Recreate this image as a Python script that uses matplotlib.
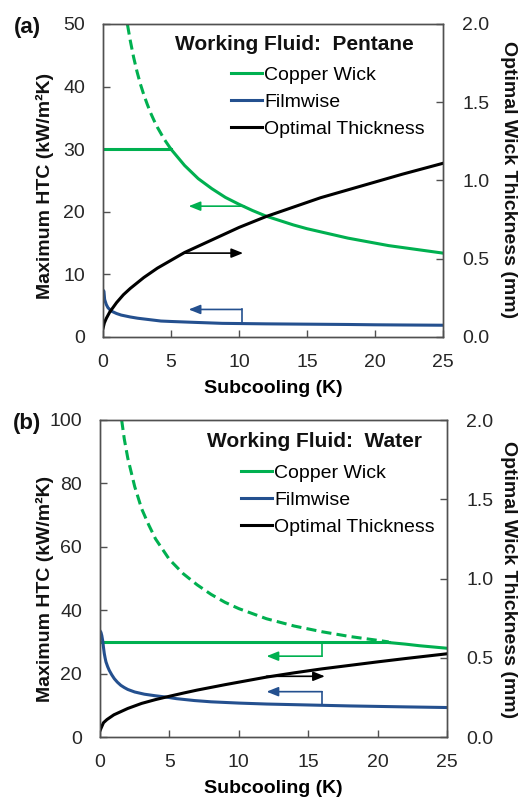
import matplotlib
matplotlib.use("Agg")
import matplotlib.pyplot as plt
from matplotlib.lines import Line2D

plt.rcParams['font.family'] = ['Liberation Sans', 'DejaVu Sans']

GREEN = '#00B050'
BLUE = '#24508F'
SPINE = '#505050'

# ---- (a) pentane ----
pen_cu_flat_x = [0, 5]
pen_cu_flat_y = [30, 30]
pen_cu_dash_x = [1.8, 2, 2.25, 2.5, 2.75, 3, 3.25, 3.5, 3.75, 4, 4.5, 5]
pen_cu_dash_y = [49.9, 47.4, 44.7, 42.4, 40.4, 38.7, 37.2, 35.8, 34.6, 33.5, 31.6, 30.0]
pen_cu_x = [5, 6, 7, 8, 9, 10, 11, 12, 13, 14, 15, 16, 17, 18, 19, 20, 21, 22, 23, 24, 25]
pen_cu_y = [30.0, 27.4, 25.3, 23.7, 22.3, 21.2, 20.2, 19.3, 18.6, 17.9, 17.3, 16.8,
            16.3, 15.8, 15.4, 15.0, 14.6, 14.3, 14.0, 13.7, 13.4]
pen_fw_x = [0, 0.07, 0.12, 0.24, 0.36, 0.6, 1.0, 1.34, 2, 2.55, 3.5, 4.26, 5, 6.7, 8.76,
            10, 12, 15, 18, 20, 22, 25]
pen_fw_y = [7.5, 7.3, 6.0, 5.2, 4.7, 4.15, 3.75, 3.5, 3.2, 3.0, 2.75, 2.55, 2.48, 2.34,
            2.18, 2.15, 2.1, 2.05, 2.0, 1.95, 1.92, 1.88]
pen_th_x = [0, 0.1, 0.25, 0.5, 1, 1.5, 2, 3, 4, 5, 6, 7, 8, 9, 10, 12, 14, 16, 18, 20, 22, 25]
pen_th_y = [0.055, 0.09, 0.12, 0.16, 0.22, 0.27, 0.31, 0.38, 0.44, 0.49, 0.54, 0.58, 0.62,
            0.66, 0.70, 0.77, 0.83, 0.89, 0.94, 0.99, 1.04, 1.11]

# ---- (b) water ----
wat_cu_flat_x = [0, 20.8]
wat_cu_flat_y = [30, 30]
wat_cu_dash_x = [1.56, 1.75, 2, 2.5, 3, 3.5, 4, 5, 6, 7, 8, 9, 10, 12, 14, 16, 18, 20, 20.8]
wat_cu_dash_y = [100, 94, 88, 79, 72, 67, 62.5, 56, 51.5, 48, 45, 42.5, 40.5, 37.3, 35,
                 33.2, 31.7, 30.5, 30]
wat_cu_x = [20.8, 22, 23, 24, 25]
wat_cu_y = [29.8, 29.3, 28.8, 28.4, 28.0]
wat_fw_x = [0, 0.07, 0.13, 0.19, 0.25, 0.31, 0.37, 0.43, 0.55, 0.67, 0.85, 1.03, 1.25, 1.5,
            1.75, 2, 2.5, 3.2, 4, 4.76, 5.5, 6.8, 8, 9, 10, 12, 15, 18, 20, 22, 25]
wat_fw_y = [33.5, 33.0, 32.0, 30.5, 28.3, 26.3, 24.9, 23.7, 22.2, 21.0, 19.6, 18.4, 17.3,
            16.3, 15.6, 15.0, 14.2, 13.5, 13.0, 12.6, 12.1, 11.5, 11.1, 10.9, 10.7, 10.4,
            10.1, 9.8, 9.65, 9.5, 9.3]
wat_th_x = [0, 0.25, 0.5, 1, 1.5, 2, 3, 4, 5, 6, 7, 8, 9, 10, 12, 14, 16, 18, 20, 22, 25]
wat_th_y = [0.04, 0.09, 0.11, 0.14, 0.16, 0.18, 0.212, 0.236, 0.257, 0.277, 0.296, 0.313,
            0.33, 0.346, 0.378, 0.405, 0.43, 0.452, 0.474, 0.495, 0.525]

x_ticks = [0, 5, 10, 15, 20, 25]
right_ticks = [0.0, 0.5, 1.0, 1.5, 2.0]

fig = plt.figure(figsize=(5.23, 7.98), dpi=100)
ax_a = fig.add_axes([103 / 523, 1 - 337 / 798, 340 / 523, 313 / 798])
ax_b = fig.add_axes([100 / 523, 1 - 737 / 798, 347 / 523, 317 / 798])


def style(ax, ax2, ymax, ystep):
    ax.set_xlim(0, 25)
    ax.set_ylim(0, ymax)
    ax2.set_ylim(0, 2.0)
    ax.set_xticks(x_ticks)
    ax.set_yticks(list(range(0, ymax + 1, ystep)))
    ax2.set_yticks(right_ticks)
    ax2.set_yticklabels(['%.1f' % t for t in right_ticks])
    for a in (ax, ax2):
        for s in a.spines.values():
            s.set_color(SPINE)
            s.set_linewidth(1.0)
    ax.tick_params(axis='both', direction='in', length=5, width=1.0, color=SPINE,
                   labelsize=14, labelcolor='#262626')
    ax.tick_params(axis='x', pad=12.5)
    ax.tick_params(axis='y', pad=13)
    ax2.tick_params(axis='y', direction='in', length=5, width=1.0, color=SPINE,
                    labelsize=14, labelcolor='#262626', pad=14)
    ax.set_xlabel('Subcooling (K)', fontsize=14, fontweight='bold', labelpad=6)


def arrow(ax, x0, x1, y, color):
    ax.annotate('', xy=(x1, y), xytext=(x0, y),
                arrowprops=dict(arrowstyle='-|>,head_length=0.7,head_width=0.28',
                                color=color, lw=1.2, shrinkA=0, shrinkB=0,
                                mutation_scale=10))


def legend(ax, title, tx, ty, lx, ly):
    ax.text(tx, ty, title, transform=ax.transAxes, fontsize=15, fontweight='bold',
            ha='left', va='center', color='#111111')
    handles = [Line2D([], [], color=GREEN, lw=2.2),
               Line2D([], [], color=BLUE, lw=2.2),
               Line2D([], [], color='black', lw=2.2)]
    ax.legend(handles, ['Copper Wick', 'Filmwise', 'Optimal Thickness'],
              loc='upper left', bbox_to_anchor=(lx, ly), frameon=False,
              fontsize=14, handlelength=1.6, handletextpad=0.1, labelspacing=0.48,
              borderpad=0, borderaxespad=0)


LW = 2.2
DASH = (0, (3.3, 1.7))

# panel (a)
ax2_a = ax_a.twinx()
ax_a.plot(pen_cu_flat_x, pen_cu_flat_y, color=GREEN, lw=LW)
ax_a.plot(pen_cu_dash_x, pen_cu_dash_y, color=GREEN, lw=LW, ls=DASH)
ax_a.plot(pen_cu_x, pen_cu_y, color=GREEN, lw=LW)
ax_a.plot(pen_fw_x, pen_fw_y, color=BLUE, lw=LW)
ax2_a.plot(pen_th_x, pen_th_y, color='black', lw=LW)
style(ax_a, ax2_a, 50, 10)
arrow(ax_a, 10.4, 6.3, 20.9, GREEN)
arrow(ax2_a, 5.9, 10.3, 0.536, 'black')
ax_a.plot([10.2, 10.2], [2.17, 4.4], color=BLUE, lw=1.2)
arrow(ax_a, 10.2, 6.3, 4.4, BLUE)
legend(ax_a, 'Working Fluid:  Pentane', 0.212, 0.936, 0.376, 0.865)

# panel (b)
ax2_b = ax_b.twinx()
ax_b.plot(wat_cu_flat_x, wat_cu_flat_y, color=GREEN, lw=LW)
ax_b.plot(wat_cu_dash_x, wat_cu_dash_y, color=GREEN, lw=LW, ls=DASH)
ax_b.plot(wat_cu_x, wat_cu_y, color=GREEN, lw=LW)
ax_b.plot(wat_fw_x, wat_fw_y, color=BLUE, lw=LW)
ax2_b.plot(wat_th_x, wat_th_y, color='black', lw=LW)
style(ax_b, ax2_b, 100, 20)
ax_b.plot([16, 16], [30, 25.5], color=GREEN, lw=1.2)
arrow(ax_b, 16, 12, 25.5, GREEN)
arrow(ax2_b, 12, 16.2, 0.383, 'black')
ax_b.plot([16, 16], [10.1, 14.3], color=BLUE, lw=1.2)
arrow(ax_b, 16, 12, 14.3, BLUE)
legend(ax_b, 'Working Fluid:  Water', 0.308, 0.931, 0.406, 0.861)

# axis titles and panel letters
for yc in (186, 589):
    fig.text(45 / 523, 1 - yc / 798, 'Maximum HTC (kW/m²K)', rotation=90,
             ha='center', va='center', fontsize=14, fontweight='bold', color='#111111')
for yc in (180, 580):
    fig.text(508 / 523, 1 - yc / 798, 'Optimal Wick Thickness (mm)', rotation=270,
             ha='center', va='center', fontsize=14, fontweight='bold', color='#111111')
fig.text(27 / 523, 1 - 28 / 798, '(a)', ha='center', va='center', fontsize=16,
         fontweight='bold', color='#111111')
fig.text(27 / 523, 1 - 423 / 798, '(b)', ha='center', va='center', fontsize=16,
         fontweight='bold', color='#111111')

fig.savefig('out.png', dpi=100)
